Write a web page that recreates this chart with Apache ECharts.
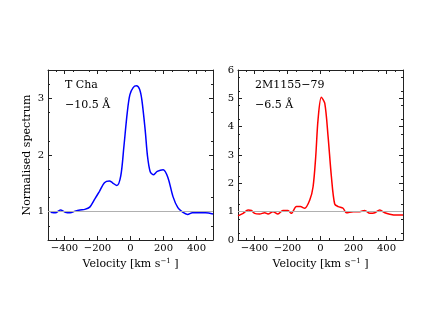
<!DOCTYPE html>
<html>
<head>
<meta charset="utf-8">
<script src="https://cdn.jsdelivr.net/npm/echarts@6/dist/echarts.min.js"></script>
<style>
html, body { margin: 0; padding: 0; background: #fff; }
#main { width: 430px; height: 332px; }
</style>
</head>
<body>
<div id="main"></div>
<script>
// T Cha (left panel)
var tchaVel = [-484, -455, -425, -395, -366, -336, -306, -277, -247, -217, -188, -158, -128, -109, -83, -59, -40, -20, -4, 16, 36, 55, 69, 89, 103, 119, 138, 162, 198, 227, 257, 287, 316, 346, 375, 415, 455, 500];
var tchaFlux = [0.99, 0.98, 1.03, 0.99, 0.98, 1.01, 1.03, 1.04, 1.08, 1.22, 1.36, 1.51, 1.54, 1.51, 1.46, 1.63, 2.15, 2.74, 3.06, 3.19, 3.22, 3.16, 2.97, 2.44, 1.98, 1.71, 1.65, 1.71, 1.74, 1.60, 1.27, 1.07, 0.99, 0.95, 0.98, 0.98, 0.98, 0.96];
// 2M1155-79 (right panel)
var m1155Vel = [-500, -469, -439, -419, -399, -369, -338, -318, -288, -258, -228, -197, -177, -146, -122, -96, -65, -45, -29, -15, 5, 26, 46, 66, 86, 107, 137, 157, 198, 238, 268, 299, 329, 359, 390, 420, 460, 500];
var m1155Flux = [0.85, 0.94, 1.06, 1.04, 0.94, 0.92, 0.96, 0.92, 1.0, 0.92, 1.04, 1.04, 0.94, 1.18, 1.18, 1.12, 1.41, 1.88, 2.94, 4.24, 5.04, 4.82, 3.65, 2.24, 1.27, 1.18, 1.12, 0.96, 1.0, 1.0, 1.04, 0.94, 0.96, 1.06, 0.96, 0.91, 0.88, 0.88];

var xTicks = [-400, -200, 0, 200, 400];
var leftYTicks = [1, 2, 3];
var rightYTicks = [0, 1, 2, 3, 4, 5, 6];

var FONT = 'DejaVu Serif';
var dom = document.getElementById('main');
var myChart = echarts.init(dom);

function pairs(xs, ys) {
    var out = [];
    for (var i = 0; i < xs.length; i++) out.push([xs[i], ys[i]]);
    return out;
}

function xAxisFor(gridIndex, bottom) {
    return {
        type: 'value', gridIndex: gridIndex, min: -500, max: 500, interval: 200,
        position: bottom ? 'bottom' : 'top',
        name: bottom ? '{n|Velocity [km s}{s|\u22121}{n| ]}' : '',
        nameLocation: 'middle', nameGap: 16,
        nameTextStyle: {
            rich: {
                n: { fontFamily: FONT, fontSize: 11, color: '#000' },
                s: { fontFamily: FONT, fontSize: 7, color: '#000', verticalAlign: 'top', padding: [0, 0, 6, 0] }
            }
        },
        axisLine: { onZero: false, lineStyle: { color: '#222', width: 1 } },
        axisTick: { show: true, inside: true, length: 4, lineStyle: { color: '#222' },
            customValues: xTicks },
        minorTick: { show: true, splitNumber: 4, length: 2, lineStyle: { color: '#222' } },
        axisLabel: { show: bottom, fontFamily: FONT, fontSize: 10, color: '#000', margin: 3,
            customValues: xTicks,
            formatter: function (v) { return String(v).replace('-', '\u2212'); } },
        splitLine: { show: false }
    };
}

function yAxisFor(gridIndex, left, min, max, ticks, name) {
    return {
        type: 'value', gridIndex: gridIndex, min: min, max: max, interval: 0.5,
        position: left ? 'left' : 'right',
        name: left ? name : '', nameLocation: 'middle', nameGap: 15,
        nameTextStyle: { fontFamily: FONT, fontSize: 11, color: '#000' },
        axisLine: { show: true, onZero: false, lineStyle: { color: '#222', width: 1 } },
        axisTick: { show: true, inside: true, length: 4, lineStyle: { color: '#222' },
            customValues: ticks },
        minorTick: { show: true, splitNumber: 2, length: 2, lineStyle: { color: '#222' } },
        axisLabel: { show: left, fontFamily: FONT, fontSize: 10, color: '#000', margin: 4,
            customValues: ticks },
        splitLine: { show: false }
    };
}

function text(x, y, s) {
    return { type: 'text', left: x, top: y, style: { text: s, font: '11px "' + FONT + '"', fill: '#000' } };
}

var option = {
    animation: false,
    backgroundColor: '#fff',
    grid: [
        { left: 48, top: 70, width: 165, height: 170 },
        { left: 238, top: 70, width: 165, height: 170 }
    ],
    xAxis: [xAxisFor(0, true), xAxisFor(0, false), xAxisFor(1, true), xAxisFor(1, false)],
    yAxis: [
        yAxisFor(0, true, 0.5, 3.5, leftYTicks, 'Normalised spectrum'),
        yAxisFor(0, false, 0.5, 3.5, leftYTicks, ''),
        yAxisFor(1, true, 0, 6, rightYTicks, ''),
        yAxisFor(1, false, 0, 6, rightYTicks, '')
    ],
    graphic: [
        text(65, 80, 'T Cha'),
        text(65, 100, '\u221210.5 \u00c5'),
        text(255, 80, '2M1155\u221279'),
        text(255, 100, '\u22126.5 \u00c5')
    ],
    series: [
        {
            type: 'line', xAxisIndex: 0, yAxisIndex: 0, data: pairs(tchaVel, tchaFlux),
            showSymbol: false, smooth: 0.3, lineStyle: { color: '#0000ff', width: 1.5 },
            markLine: { silent: true, symbol: 'none', label: { show: false },
                lineStyle: { color: '#b0b0b0', width: 1, type: 'solid' }, data: [{ yAxis: 1 }] }
        },
        {
            type: 'line', xAxisIndex: 2, yAxisIndex: 2, data: pairs(m1155Vel, m1155Flux),
            showSymbol: false, smooth: 0.3, lineStyle: { color: '#ff0000', width: 1.5 },
            markLine: { silent: true, symbol: 'none', label: { show: false },
                lineStyle: { color: '#b0b0b0', width: 1, type: 'solid' }, data: [{ yAxis: 1 }] }
        }
    ]
};
myChart.setOption(option, true);
</script>
</body>
</html>
